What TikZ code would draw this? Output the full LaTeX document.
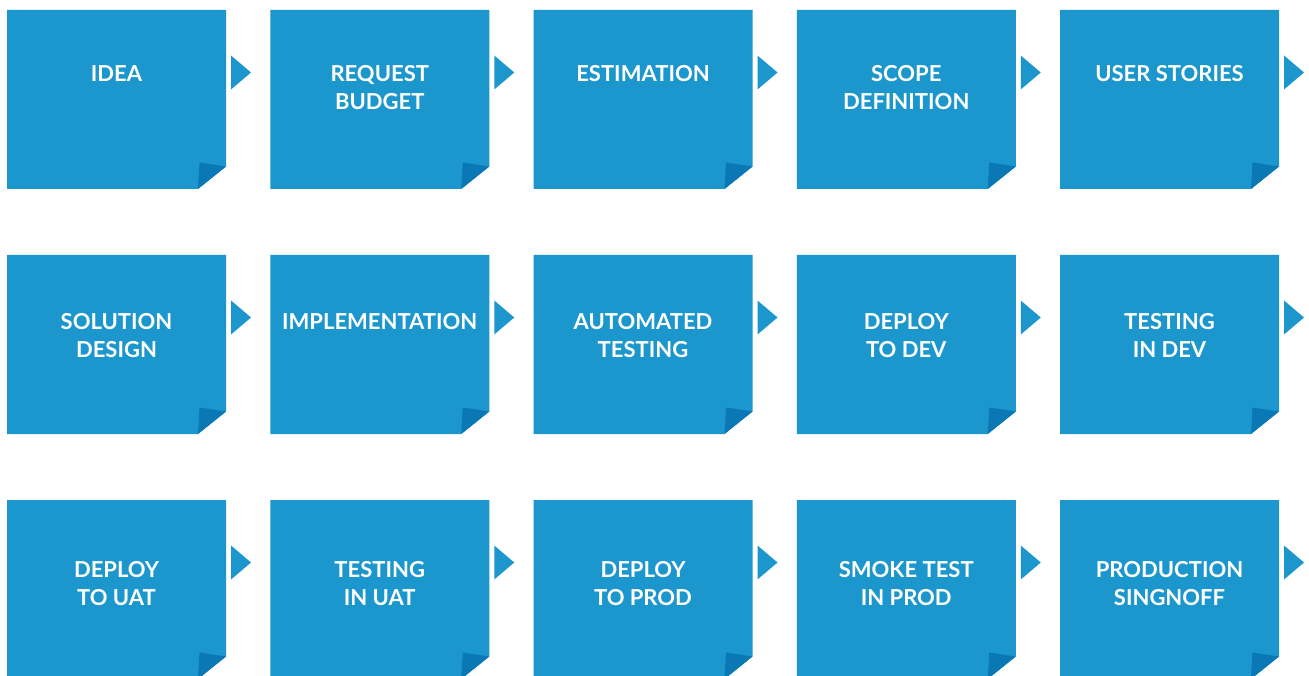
\documentclass[tikz,border=0pt]{standalone}
\usepackage{fontspec}
\setmainfont{Lato}
\usetikzlibrary{calc}
\definecolor{stepblue}{RGB}{27,151,205}
\definecolor{folddark}{RGB}{9,120,180}
\begin{document}
\begin{tikzpicture}[x=1pt, y=-1pt, line join=round,
	stepbox/.style={minimum width=219pt, minimum height=179pt, inner sep=0, outer sep=0},
	steptext/.style={anchor=north, inner sep=0, align=center, text=white,
		font=\bfseries\fontsize{22}{28}\selectfont}]
	\useasboundingbox (0,0) rectangle (1309,676);
	\clip (0,0) rectangle (1309,676);
	\def\dx{263.25} \def\dy{245}
	\foreach \n/\r/\c/\t in {1/0/0/IDEA, 2/0/1/{REQUEST\\BUDGET}, 3/0/2/ESTIMATION, 4/0/3/{SCOPE\\DEFINITION}, 5/0/4/{USER STORIES},
		6/1/0/{SOLUTION\\DESIGN}, 7/1/1/IMPLEMENTATION, 8/1/2/{AUTOMATED\\TESTING}, 9/1/3/{DEPLOY\\TO DEV}, 10/1/4/{TESTING\\IN DEV},
		11/2/0/{DEPLOY\\TO UAT}, 12/2/1/{TESTING\\IN UAT}, 13/2/2/{DEPLOY\\TO PROD}, 14/2/3/{SMOKE TEST\\IN PROD}, 15/2/4/{PRODUCTION\\SINGNOFF}}
	{
		\node[stepbox] (s\n) at (7+109.5+\dx*\c, 10+89.5+\dy*\r) {};
		% sheet with the corner cut off
		\fill[stepblue] (s\n.north west) -- (s\n.north east) -- ($(s\n.south east)+(0,-22.5)$)
			-- ($(s\n.south east)+(-28,0)$) -- (s\n.south west) -- cycle;
		\fill[folddark] ($(s\n.south east)+(-28,0)$) -- ($(s\n.south east)+(-26.5,-26.5)$) -- ($(s\n.south east)+(0,-22.5)$) -- cycle;
		% pointer to the next step
		\fill[stepblue] ($(s\n.north east)+(5,45.5)$) -- ($(s\n.north east)+(25,62.5)$) -- ($(s\n.north east)+(5,79.5)$) -- cycle;
		\node[steptext] (t\n) at ($(s\n.north)+(0,55.5+2.75*\r)$) {\t};
	}
\end{tikzpicture}
\end{document}
